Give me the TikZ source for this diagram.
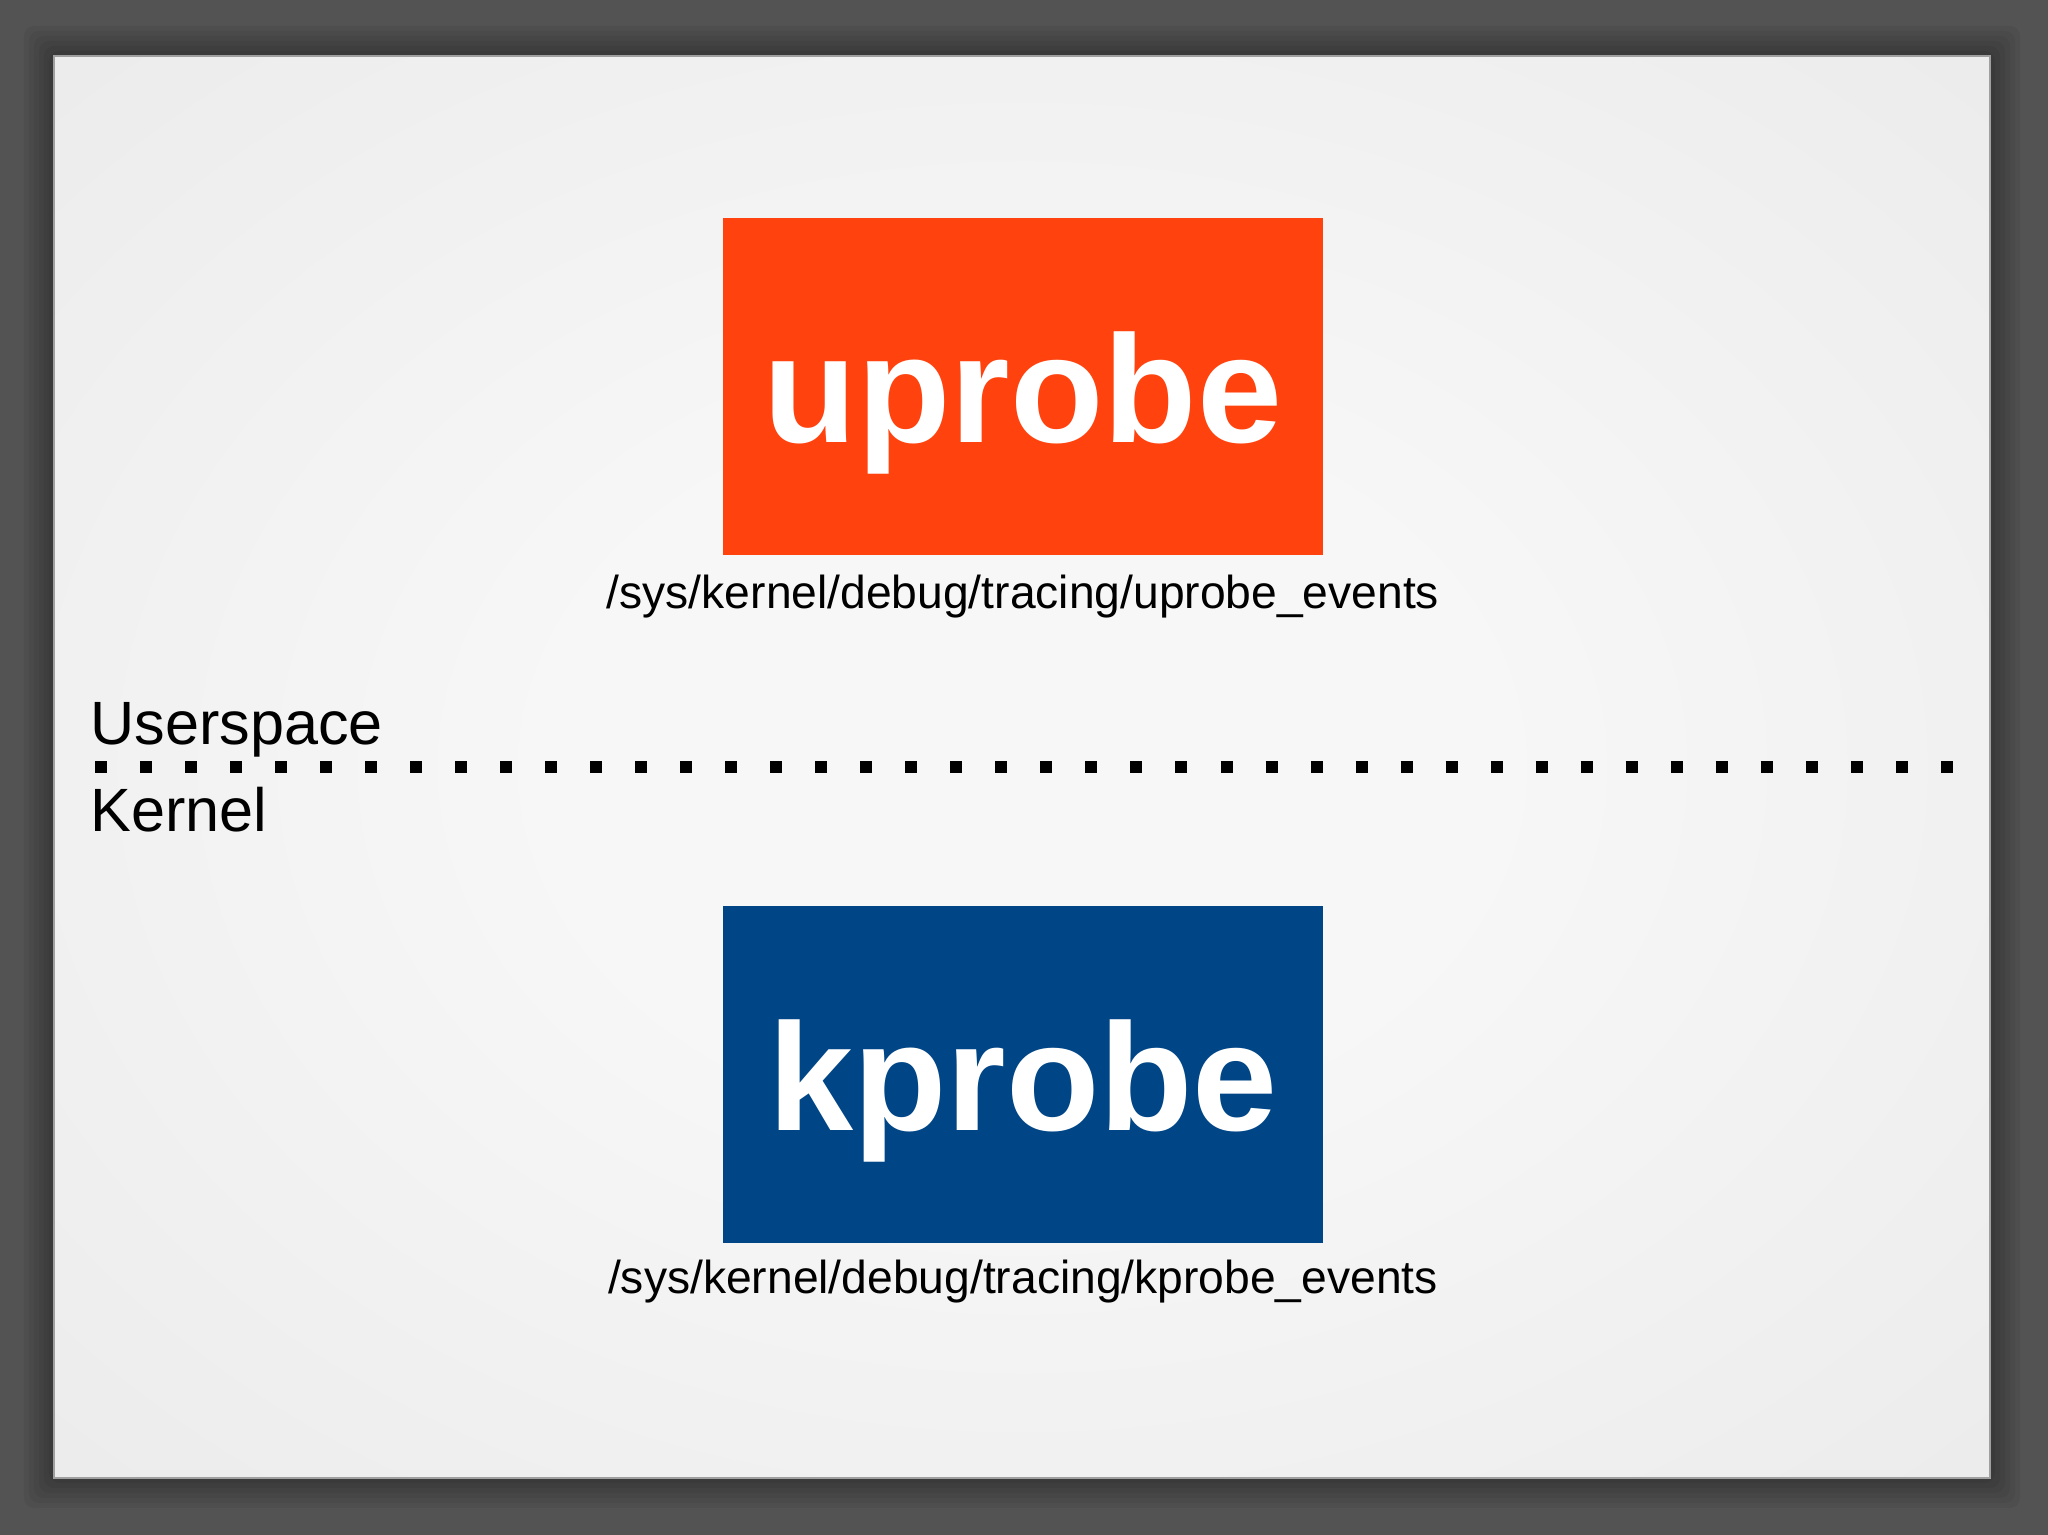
\documentclass[tikz,border=0pt]{standalone}
\usepackage{fontspec}
\setmainfont{Liberation Sans}
\usepackage{tikz}
\usetikzlibrary{positioning,calc}
\definecolor{framegray}{HTML}{535353}
\definecolor{slidein}{HTML}{F7F7F7}
\definecolor{slideout}{HTML}{DADADA}
\definecolor{uorange}{HTML}{FF420E}
\definecolor{kblue}{HTML}{004586}
\pgfdeclareradialshading{slideglow}{\pgfpoint{0bp}{0bp}}{color(0bp)=(slidein); color(12bp)=(slidein); color(72bp)=(slideout)}

\begin{document}
\begin{tikzpicture}[node distance=0.2cm,on grid,
  probebox/.style={rectangle,minimum width=6cm,minimum height=3.37cm,inner sep=0pt,
    text=white,font=\fontsize{43.5pt}{50pt}\selectfont\bfseries,text height=31.8pt,text depth=0pt},
  pathtext/.style={inner sep=0pt,font=\fontsize{13.15pt}{16pt}\selectfont},
  sidetext/.style={inner sep=0pt,anchor=base west,font=\fontsize{17.4pt}{20pt}\selectfont},
  divider/.style={line width=1.2mm,dash pattern=on 1.2mm off 3.302mm}]
\useasboundingbox (0,0) rectangle (20.48,15.35);
\fill[framegray] (0,0) rectangle (20.48,15.35);
% slide and its shadow
\coordinate (s_sw) at (0.54,0.57);
\coordinate (s_ne) at (19.90,14.79);
\foreach \s in {0.30,0.25,0.20,0.15,0.10,0.05}
  \fill[black,opacity=0.05,rounded corners=1mm] ([shift={(-\s,-\s)}]s_sw) rectangle ([shift={(\s,\s)}]s_ne);
\shade[shading=slideglow,draw=gray!75,line width=0.5pt] (s_sw) rectangle (s_ne);
% the two probes
\node[probebox,fill=uorange](u_box) at (10.23,11.485){uprobe};
\node[probebox,fill=kblue](k_box)[below=6.88cm of u_box]{kprobe};
\node[pathtext](u_path)[below=5.3mm of u_box.south,anchor=base]{/sys/kernel/debug/tracing/uprobe\_events};
\node[pathtext](k_path)[below=5.0mm of k_box.south,anchor=base]{/sys/kernel/debug/tracing/kprobe\_events};
% userspace / kernel border
\node[coordinate](d_l) at (0.95,7.68){};
\node[coordinate](d_r)[right=18.58cm of d_l]{};
\draw[divider] (d_l) -- (d_r);
\node[sidetext](t_user) at (0.90,7.90){Userspace};
\node[sidetext](t_kern) at (0.90,7.03){Kernel};
\end{tikzpicture}
\end{document}
